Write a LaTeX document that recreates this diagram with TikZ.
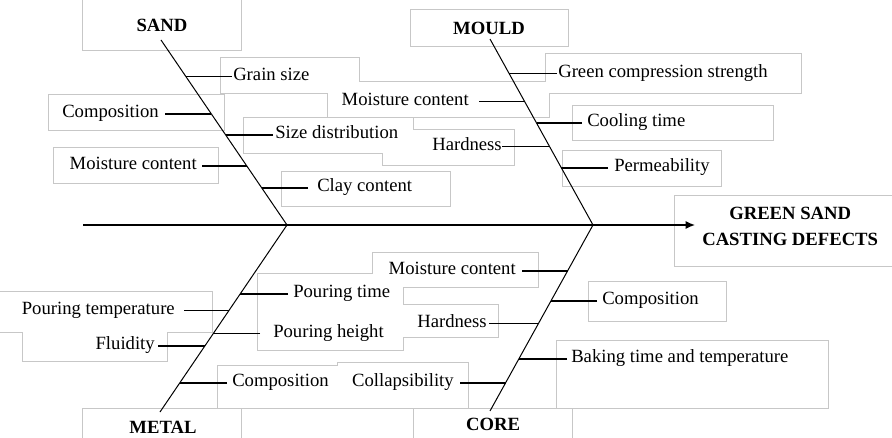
\documentclass[tikz,border=0pt]{standalone}
\usepackage{fontspec}
\setmainfont{Liberation Serif}
\usetikzlibrary{arrows.meta,calc}

% frames behind the labels: x1/y1/x2/y2 in pixels
\newcommand\framelist{83/-4/241/50, 411/10/568/46, 221/58/359/93, 328/82/549/117,
  546/54/801/93, 49/95/224/130, 244/118/413/153, 383/130/514/165, 573/106/773/140,
  54/148/218/183, 282/172/450/206, 563/151/721/186, 675/196/900/266,
  373/253/538/287, 258/274/403/350, -10/292/212/332, 23/332/167/361,
  589/282/726/321, 395/305/498/337, 557/341/828/408, 218/366/420/408,
  338/363/468/408, 83/409/241/460, 414/409/572/460}

\begin{document}
\begin{tikzpicture}[x=0.75pt,y=-0.75pt,>={Latex[length=7pt,width=6pt]},
    lbl/.style={font=\fontsize{14}{16}\selectfont,inner sep=0pt,text height=9pt,text depth=3.5pt},
    head/.style={font=\fontsize{14}{19.5}\selectfont\bfseries,inner sep=0pt},
    frame/.style={draw=black!22,line width=1.5pt},
    bone/.style={line width=0.75pt},
    twig/.style={line width=0.8pt}]

  \useasboundingbox (0,0) rectangle (892,438);

  % frames: outline first, then white fill, so overlaps merge
  \foreach \a/\b/\c/\d in \framelist
    \draw[frame] (\a,\b) rectangle (\c,\d);
  \foreach \a/\b/\c/\d in \framelist
    \fill[white] (\a,\b) rectangle (\c,\d);

  % heads
  \node[head] (sand) at (162,25) {SAND};
  \node[head] (mould) at (489,28) {MOULD};
  \node[head] (metal) at (163,427) {METAL};
  \node[head] (core) at (493,424) {CORE};
  \node[head,align=center,anchor=west] (effect) at (702,226) {GREEN SAND\\CASTING DEFECTS};

  % bones
  \coordinate (tail) at (83,225);
  \coordinate (jS) at (287,225);
  \coordinate (jM) at (593,225);
  \coordinate (sandtop) at (161,40);
  \coordinate (mouldtop) at (490,39);
  \coordinate (metalend) at (160,412);
  \coordinate (coreend) at (490,411);

  \draw[->,line width=1pt,shorten >=5.25pt] (tail) -- (tail -| effect.west);
  \draw[bone] (sandtop) -- (jS) -- (metalend);
  \draw[bone] (mouldtop) -- (jM) -- (coreend);

  % causes
  \node[lbl,anchor=west] (grain) at (233,76.5) {Grain size};
  \node[lbl,anchor=east] (compS) at (159,114) {Composition};
  \node[lbl,anchor=west] (sized) at (275,135) {Size distribution};
  \node[lbl,anchor=east] (moistS) at (197,166) {Moisture content};
  \node[lbl,anchor=west] (clay) at (317,188) {Clay content};

  \node[lbl,anchor=west] (green) at (558,73.5) {Green compression strength};
  \node[lbl,anchor=east] (moistM) at (469,101.5) {Moisture content};
  \node[lbl,anchor=west] (cool) at (587,123) {Cooling time};
  \node[lbl,anchor=east] (hardM) at (502,146.5) {Hardness};
  \node[lbl,anchor=west] (perm) at (614,168) {Permeability};

  \node[lbl,anchor=west] (ptime) at (293,294) {Pouring time};
  \node[lbl,anchor=east] (ptemp) at (175,310.5) {Pouring temperature};
  \node[lbl,anchor=west] (pheight) at (273,333.5) {Pouring height};
  \node[lbl,anchor=east] (flu) at (155,346) {Fluidity};
  \node[lbl,anchor=west] (compM) at (232,383) {Composition};

  \node[lbl,anchor=east] (moistC) at (516,271) {Moisture content};
  \node[lbl,anchor=west] (compC) at (602,301) {Composition};
  \node[lbl,anchor=east] (hardC) at (487,323.5) {Hardness};
  \node[lbl,anchor=west] (bake) at (571,359) {Baking time and temperature};
  \node[lbl,anchor=east] (coll) at (454,383) {Collapsibility};

  % twigs from each cause to its bone
  \foreach \lab/\side/\bt/\be/\gap in {grain/west/sandtop/jS/0.75pt, compS/east/sandtop/jS/4.5pt,
      sized/west/sandtop/jS/1.5pt, moistS/east/sandtop/jS/3.75pt, clay/west/sandtop/jS/6.75pt,
      green/west/mouldtop/jM/0.75pt, moistM/east/mouldtop/jM/7.5pt, cool/west/mouldtop/jM/3.75pt,
      hardM/east/mouldtop/jM/0pt, perm/west/mouldtop/jM/4.5pt,
      ptime/west/metalend/jS/3.75pt, ptemp/east/metalend/jS/6.75pt, pheight/west/metalend/jS/9.75pt,
      flu/east/metalend/jS/2.25pt, compM/west/metalend/jS/3.75pt,
      moistC/east/coreend/jM/4.5pt, compC/west/coreend/jM/3.75pt, hardC/east/coreend/jM/1.5pt,
      bake/west/coreend/jM/3pt, coll/east/coreend/jM/4.5pt}
    \draw[twig,shorten <=\gap] let \p1=(\lab.\side), \p2=(\bt), \p3=(\be) in
      (\lab.\side) -- ({\x2+(\x3-\x2)*(\y1-\y2)/(\y3-\y2)},\y1);

\end{tikzpicture}
\end{document}
